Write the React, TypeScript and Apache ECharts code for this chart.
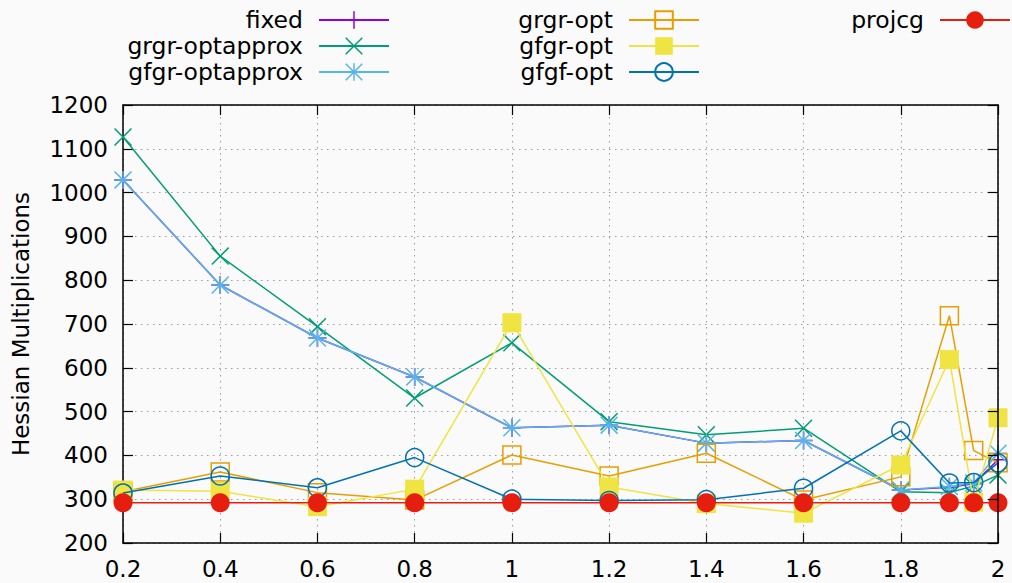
import React, { useEffect, useRef } from "react";
import * as echarts from "echarts";

const xValues = [0.2, 0.4, 0.6, 0.8, 1.0, 1.2, 1.4, 1.6, 1.8, 1.9, 1.95, 2.0];

const fixed = [1029, 789, 668, 579, 463, 469, 428, 434, 321, 327, 335, 390];
const grgrOptapprox = [1127, 855, 694, 531, 657, 477, 447, 462, 317, 315, 330, 355];
const gfgrOptapprox = [1029, 789, 668, 579, 463, 469, 428, 434, 321, 329, 337, 405];
const grgrOpt = [317, 362, 315, 298, 401, 353, 405, 298, 351, 719, 411, 383];
const gfgrOpt = [321, 318, 283, 323, 703, 328, 290, 268, 378, 619, 293, 486];
const gfgfOpt = [314, 353, 326, 395, 300, 297, 299, 325, 456, 337, 338, 383];
const projcg = [292, 292, 292, 292, 292, 292, 292, 292, 292, 292, 292, 292];

const yTicks = { min: 200, max: 1200, interval: 100 };
const xTicks = { min: 0.2, max: 2, interval: 0.2 };

const FONT = "DejaVu Sans";

const PLUS = "path://M8.25,0H9.75V18H8.25Z M0,8.25H18V9.75H0Z";
const CROSS =
  "path://M0,1.06L1.06,0L18,16.94L16.94,18Z M16.94,0L18,1.06L1.06,18L0,16.94Z";
const STAR =
  "path://M8.25,0H9.75V18H8.25Z M0,8.25H18V9.75H0Z M0,1.06L1.06,0L18,16.94L16.94,18Z M16.94,0L18,1.06L1.06,18L0,16.94Z";

const pairs = (ys: number[]) => xValues.map((x, i) => [x, ys[i]]);

export default function App() {
  const ref = useRef<HTMLDivElement>(null);
  useEffect(() => {
    if (!ref.current) return;
    const chart = echarts.init(ref.current, undefined, { renderer: "svg" });

    const mk = (
      name: string,
      ys: number[],
      color: string,
      symbol: string,
      size: number,
      hollow: boolean,
      z: number
    ) => ({
      name,
      type: "line",
      data: pairs(ys),
      symbol,
      symbolSize: size,
      showAllSymbol: true,
      clip: false,
      z,
      lineStyle: { color, width: 1.5 },
      itemStyle: hollow
        ? { color: "rgba(0,0,0,0)", borderColor: color, borderWidth: 1.5 }
        : { color, borderWidth: 0 },
      emphasis: { disabled: true },
    });

    const legendBase = {
      orient: "vertical",
      align: "right",
      top: 8,
      itemWidth: 70,
      itemHeight: 22,
      itemGap: 2,
      padding: 0,
      selectedMode: false,
      textStyle: {
        fontFamily: FONT,
        fontSize: 23.5,
        color: "#000",
        lineHeight: 22,
        padding: [0, 11, 0, 0],
      },
    };

    chart.setOption({
      animation: false,
      backgroundColor: "#fafafa",
      textStyle: { fontFamily: FONT },
      legend: [
        { ...legendBase, right: 622, data: ["fixed", "grgr-optapprox", "gfgr-optapprox"] },
        { ...legendBase, right: 312, data: ["grgr-opt", "gfgr-opt", "gfgf-opt"] },
        { ...legendBase, right: 1, data: ["projcg"] },
      ],
      grid: { left: 123, right: 14, top: 105, bottom: 40 },
      xAxis: [
        {
          type: "value",
          position: "bottom",
          ...xTicks,
          z: 0,
          axisLine: { show: true, lineStyle: { color: "#000", width: 1.5 } },
          axisTick: { show: true, inside: true, length: 10, lineStyle: { color: "#000", width: 1.2 } },
          axisLabel: {
            margin: 14,
            fontFamily: FONT,
            fontSize: 23,
            color: "#000",
            formatter: (v: number) => String(+v.toFixed(2)),
          },
          splitLine: { show: true, lineStyle: { color: "#9a9a9a", width: 1, type: [1.5, 4.5] } },
        },
        {
          type: "value",
          position: "top",
          ...xTicks,
          z: 50,
          axisLine: { show: true, onZero: false, lineStyle: { color: "#000", width: 1.5 } },
          axisTick: { show: true, inside: true, length: 10, lineStyle: { color: "#000", width: 1.2 } },
          axisLabel: { show: false },
          splitLine: { show: false },
        },
      ],
      yAxis: [
        {
          type: "value",
          position: "left",
          ...yTicks,
          z: 0,
          name: "Hessian Multiplications",
          nameLocation: "middle",
          nameGap: 91,
          nameTextStyle: { fontFamily: FONT, fontSize: 23, color: "#000" },
          axisLine: { show: true, onZero: false, lineStyle: { color: "#000", width: 1.5 } },
          axisTick: { show: true, inside: true, length: 10, lineStyle: { color: "#000", width: 1.2 } },
          axisLabel: {
            margin: 15,
            fontFamily: FONT,
            fontSize: 23,
            color: "#000",
            formatter: (v: number) => String(Math.round(v)),
          },
          splitLine: { show: true, lineStyle: { color: "#9a9a9a", width: 1, type: [1.5, 4.5] } },
        },
        {
          type: "value",
          position: "right",
          ...yTicks,
          z: 50,
          axisLine: { show: true, onZero: false, lineStyle: { color: "#000", width: 1.5 } },
          axisTick: { show: true, inside: true, length: 10, lineStyle: { color: "#000", width: 1.2 } },
          axisLabel: { show: false },
          splitLine: { show: false },
        },
      ],
      series: [
        mk("fixed", fixed, "#9400d3", PLUS, 18, false, 2),
        mk("grgr-optapprox", grgrOptapprox, "#009e73", CROSS, 18, false, 3),
        mk("gfgr-optapprox", gfgrOptapprox, "#56b4e9", STAR, 18, false, 4),
        mk("grgr-opt", grgrOpt, "#e69f00", "rect", 18, true, 5),
        mk("gfgr-opt", gfgrOpt, "#f0e442", "rect", 19, false, 6),
        mk("gfgf-opt", gfgfOpt, "#0072b2", "circle", 18, true, 7),
        mk("projcg", projcg, "#e51e10", "circle", 19, false, 8),
      ],
    });
    return () => chart.dispose();
  }, []);
  return (
    <div
      ref={ref}
      style={{ position: "fixed", left: 0, top: 0, width: 1012, height: 583 }}
    />
  );
}
